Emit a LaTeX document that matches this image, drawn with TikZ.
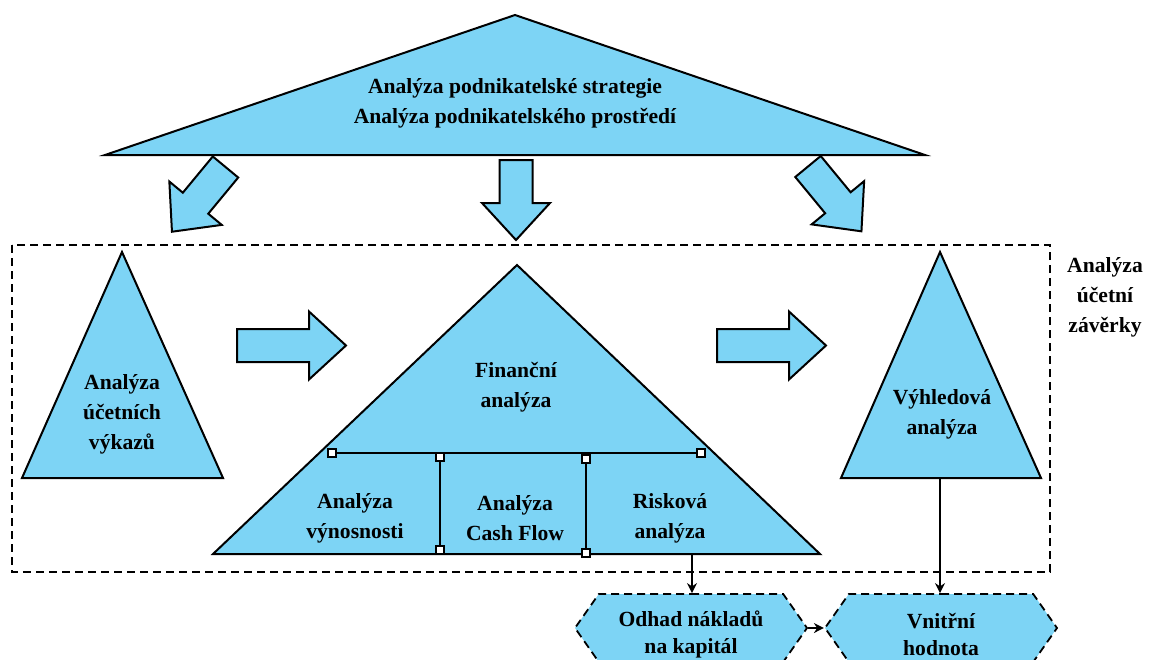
\documentclass[tikz,border=0pt]{standalone}
\usepackage{fontspec}
\setmainfont{Liberation Serif}
\usepackage{tikz}
\usetikzlibrary{shapes.symbols,arrows.meta,positioning,calc}
\definecolor{skyfill}{RGB}{125,212,245}

\tikzset{
  shapefill/.style={draw=black,fill=skyfill,line width=1pt,line join=miter},
  boldtext/.style={font=\bfseries\fontsize{10.8}{15}\selectfont,align=center,inner sep=0pt},
  dashbox/.style={draw=black,line width=0.9pt,dash pattern=on 4pt off 2.5pt},
  hexbox/.style={signal,signal to=west and east,signal pointer angle=110,
    draw=black,fill=skyfill,line width=0.9pt,dash pattern=on 4pt off 2.5pt,
    minimum width=116pt,minimum height=34pt,inner sep=0pt},
  hextext/.style={font=\bfseries\fontsize{10.8}{13.5}\selectfont,align=center,inner sep=0pt},
  joint/.style={draw=black,fill=white,line width=0.7pt,rectangle,minimum size=4pt,inner sep=0pt},
  link/.style={draw=black,line width=0.9pt},
  flow/.style={link,-{Stealth[length=5pt,width=5pt]}},
  pics/blockarrow/.style={code={
    \draw[shapefill] (0,16.5) -- (#1,16.5) -- (#1,34) -- (#1+37,0)
      -- (#1,-34) -- (#1,-16.5) -- (0,-16.5) -- cycle;
  }}
}

\begin{document}
\begin{tikzpicture}[x=0.5pt,y=-0.5pt]
\useasboundingbox (0,0) rectangle (1150,659);

% strategy triangle on top
\draw[shapefill] (105,155) -- (515,15) -- (925,155) -- cycle;
\node[boldtext] (strategie) at (515,103)
  {Analýza podnikatelské strategie\\Analýza podnikatelského prostředí};

% block arrows down
\pic[rotate=230.4] at (225.5,167) {blockarrow=47};
\pic[rotate=-90] at (516,160) {blockarrow=43};
\pic[rotate=-50.5] at (808,166.5) {blockarrow=47};

% frame of the statement analysis
\draw[dashbox] (12,245) rectangle (1050,572);
\node[boldtext] (zaverka) at (1105,297) {Analýza\\účetní\\závěrky};

% accounting statements
\draw[shapefill] (22,478) -- (122,252) -- (223,478) -- cycle;
\node[boldtext] (vykazy) at (122,414) {Analýza\\účetních\\výkazů};

\pic at (237,345.5) {blockarrow=72};

% financial analysis
\draw[shapefill] (213,554) -- (517,265) -- (820,554) -- cycle;
\node[boldtext] (financni) at (516,387) {Finanční\\analýza};
\node[joint] (jl) at (332,453) {};
\node[joint] (jr) at (701,453) {};
\node[joint] (ja) at (440,457) {};
\node[joint] (jb) at (440,550) {};
\node[joint] (jc) at (586,459) {};
\node[joint] (jd) at (586,553) {};
\draw[link] (jl) -- (jr);
\draw[link] (ja) -- (jb);
\draw[link] (jc) -- (jd);
\node[boldtext] (vynosnost) at (355,518.5) {Analýza\\výnosnosti};
\node[boldtext] (cashflow) at (515,518.5) {Analýza\\Cash Flow};
\node[boldtext] (riziko) at (670,518.5) {Risková\\analýza};
\coordinate (finbase) at (692,554);

\pic at (717,345.5) {blockarrow=72};

% prospective analysis
\draw[shapefill] (841,478) -- (940,252) -- (1041,478) -- cycle;
\node[boldtext] (vyhled) at (942,414.5) {Výhledová\\analýza};
\coordinate (vyhbase) at (940,478);

% results
\node[hexbox] (odhad) at (691,628) {};
\node[hextext] (odhadtext) at (691,634.5) {Odhad nákladů\\na kapitál};
\node[hexbox] (hodnota) at (941,628) {};
\node[hextext] (hodnotatext) at (941,634.5) {Vnitřní\\hodnota};
\draw[flow] (finbase) -- (finbase |- odhad.north);
\draw[flow] (vyhbase) -- (vyhbase |- hodnota.north);
\draw[flow] (odhad.east) -- (hodnota.west);
\end{tikzpicture}
\end{document}
